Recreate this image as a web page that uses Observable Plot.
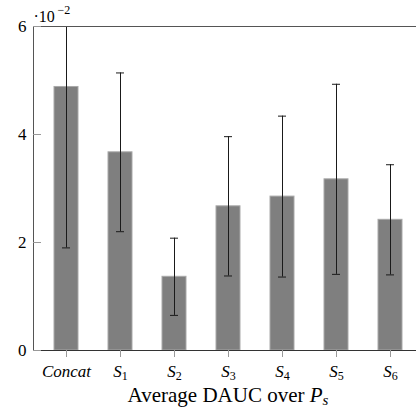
<!DOCTYPE html>
<html><head><meta charset="utf-8">
<script src="https://cdn.jsdelivr.net/npm/d3@7"></script>
<script src="https://cdn.jsdelivr.net/npm/@observablehq/plot@0.6"></script>
<style>body{margin:0;background:#fff;overflow:hidden} svg{display:block}</style>
</head><body><div id="chart"></div>
<script>
const categories = ["Concat", "S1", "S2", "S3", "S4", "S5", "S6"];
const means = [4.88, 3.67, 1.365, 2.67, 2.85, 3.17, 2.42];
const errors = [2.98, 1.47, 0.715, 1.29, 1.49, 1.76, 1.02];
const yTicks = [0, 2, 4, 6];
const xLabel = "Average DAUC over Ps";
const scaleNote = "·10";
const scaleExp = "−2";

const data = categories.map((c, i) => ({cat: c, mean: means[i], err: errors[i]}));
const font = "'Liberation Serif', 'DejaVu Serif', serif";
const yMax = 6;

const chart = Plot.plot({
  width: 416, height: 411,
  marginLeft: 33, marginRight: 0, marginTop: 26, marginBottom: 61,
  style: {fontFamily: font, fontSize: "16px", background: "#fff", color: "#000"},
  x: {domain: categories, range: [23.1, 432.5], padding: 0.557, label: null},
  y: {domain: [0, yMax], ticks: yTicks, tickFormat: "d", label: null, clamp: true},
  marks: [
    Plot.barY(data, {x: "cat", y: "mean", fill: "#7f7f7f", stroke: "#a9a9a9", strokeWidth: 1}),
    Plot.ruleX(data, {x: "cat", y1: d => d.mean - d.err, y2: d => d.mean + d.err, stroke: "#1a1a1a", strokeWidth: 1}),
    Plot.tickY(data, {x: "cat", y: d => d.mean - d.err, insetLeft: 8, insetRight: 8, stroke: "#1a1a1a", strokeWidth: 1}),
    Plot.tickY(data, {filter: d => d.mean + d.err <= yMax, x: "cat", y: d => d.mean + d.err, insetLeft: 8, insetRight: 8, stroke: "#1a1a1a", strokeWidth: 1}),
    Plot.frame({anchor: "top", stroke: "#555"}),
    Plot.frame({anchor: "left", stroke: "#555"}),
    Plot.frame({anchor: "bottom", stroke: "#333"}),
    Plot.axisX({tickSize: 7, tickPadding: 7, stroke: "#999", fontSize: 17}),
    Plot.axisY({ticks: yTicks, tickFormat: "d", tickSize: -8, tickPadding: 15, stroke: "#999", fontSize: 17}),
    Plot.text([scaleNote], {frameAnchor: "top-left", textAnchor: "start", lineAnchor: "bottom", dx: 0, dy: -5, fontSize: 16}),
    Plot.text([scaleExp], {frameAnchor: "top-left", textAnchor: "start", lineAnchor: "bottom", dx: 24, dy: -13, fontSize: 12}),
    Plot.text([xLabel], {frameAnchor: "bottom", lineAnchor: "bottom", dx: 3, dy: 51, fontSize: 21})
  ]
});
document.getElementById("chart").append(chart);

const svg = d3.select(chart);
svg.selectAll('g[aria-label="x-axis tick label"] text').each(function() {
  const t = d3.select(this); const s = t.text();
  t.text(null);
  if (s.length > 2) t.append("tspan").attr("font-style", "italic").text(s);
  else {
    t.append("tspan").attr("font-style", "italic").text(s[0]);
    t.append("tspan").attr("font-size", "12").attr("dy", "3").text(s.slice(1));
  }
});
svg.selectAll("text").filter(function() { return d3.select(this).text() === xLabel; }).each(function() {
  const t = d3.select(this);
  t.text(null);
  t.append("tspan").text(xLabel.slice(0, -2));
  t.append("tspan").attr("font-style", "italic").text(xLabel.slice(-2, -1));
  t.append("tspan").attr("font-style", "italic").attr("font-size", "15").attr("dy", "3").text(xLabel.slice(-1));
});
</script>
</body></html>
